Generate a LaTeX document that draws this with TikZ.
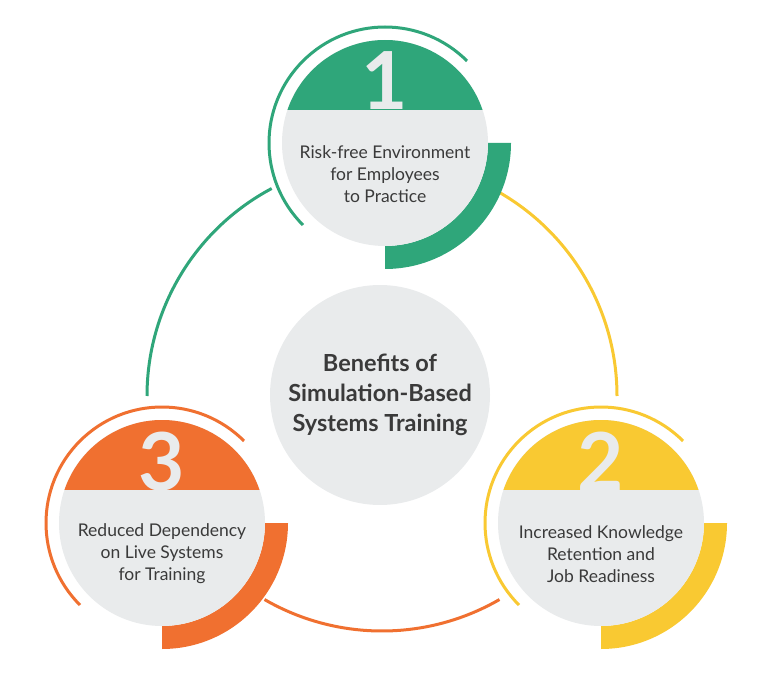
\documentclass[tikz,border=0pt]{standalone}
\usepackage{fontspec}
\setmainfont{Lato}
\definecolor{grn}{HTML}{2FA67A}
\definecolor{ylw}{HTML}{F9C932}
\definecolor{org}{HTML}{F07030}
\definecolor{disc}{HTML}{E9EBEC}
\definecolor{txt}{HTML}{3A3A3A}
\newcommand{\benefit}[4]{%
  % #1 centre, #2 colour, #3 digit, #4 label
  \fill[white] (#1) circle (118);
  \draw[#2,line width=3] (#1) ++(45:116) arc (45:225:116);
  \fill[#2] (#1) ++(0:103) arc (0:-90:103) -- ++(0,-23) arc (-90:0:126) -- cycle;
  \fill[disc] (#1) circle (103);
  \fill[#2] (#1) ++(18.7:103) arc (18.7:161.3:103) -- cycle;
  \node[digit] at ([yshift=33]#1) {#3};
  \node[label text] at ([yshift=-31]#1) {#4};
}
\begin{document}
\begin{tikzpicture}[x=1pt,y=1pt,
  digit/.style={anchor=base,text=disc,font=\fontsize{80}{80}\selectfont\bfseries,inner sep=0},
  label text/.style={align=center,text=txt,font=\fontsize{17.5}{22}\selectfont},
  ring/.style={line width=3}]
  \useasboundingbox (0,0) rectangle (768,697);
  \coordinate (ring) at (382,301);
  \coordinate (b1) at (385,554);
  \coordinate (b2) at (601,174);
  \coordinate (b3) at (162,174);

  \draw[ring,grn] (ring) ++(118:235) arc (118:180:235);
  \draw[ring,ylw] (ring) ++(0:235) arc (0:62:235);
  \draw[ring,org] (ring) ++(240:235) arc (240:300:235);

  \node[circle,fill=disc,minimum size=220,text=txt,align=center,
    font=\fontsize{23.5}{30}\selectfont\bfseries] (hub) at (380,302)
    {Benefits of\\Simulation-Based\\Systems Training};

  \benefit{b1}{grn}{1}{Risk-free Environment\\for Employees\\to Practice}
  \benefit{b2}{ylw}{2}{Increased Knowledge\\Retention and\\Job Readiness}
  \benefit{b3}{org}{3}{Reduced Dependency\\on Live Systems\\for Training}
\end{tikzpicture}
\end{document}
